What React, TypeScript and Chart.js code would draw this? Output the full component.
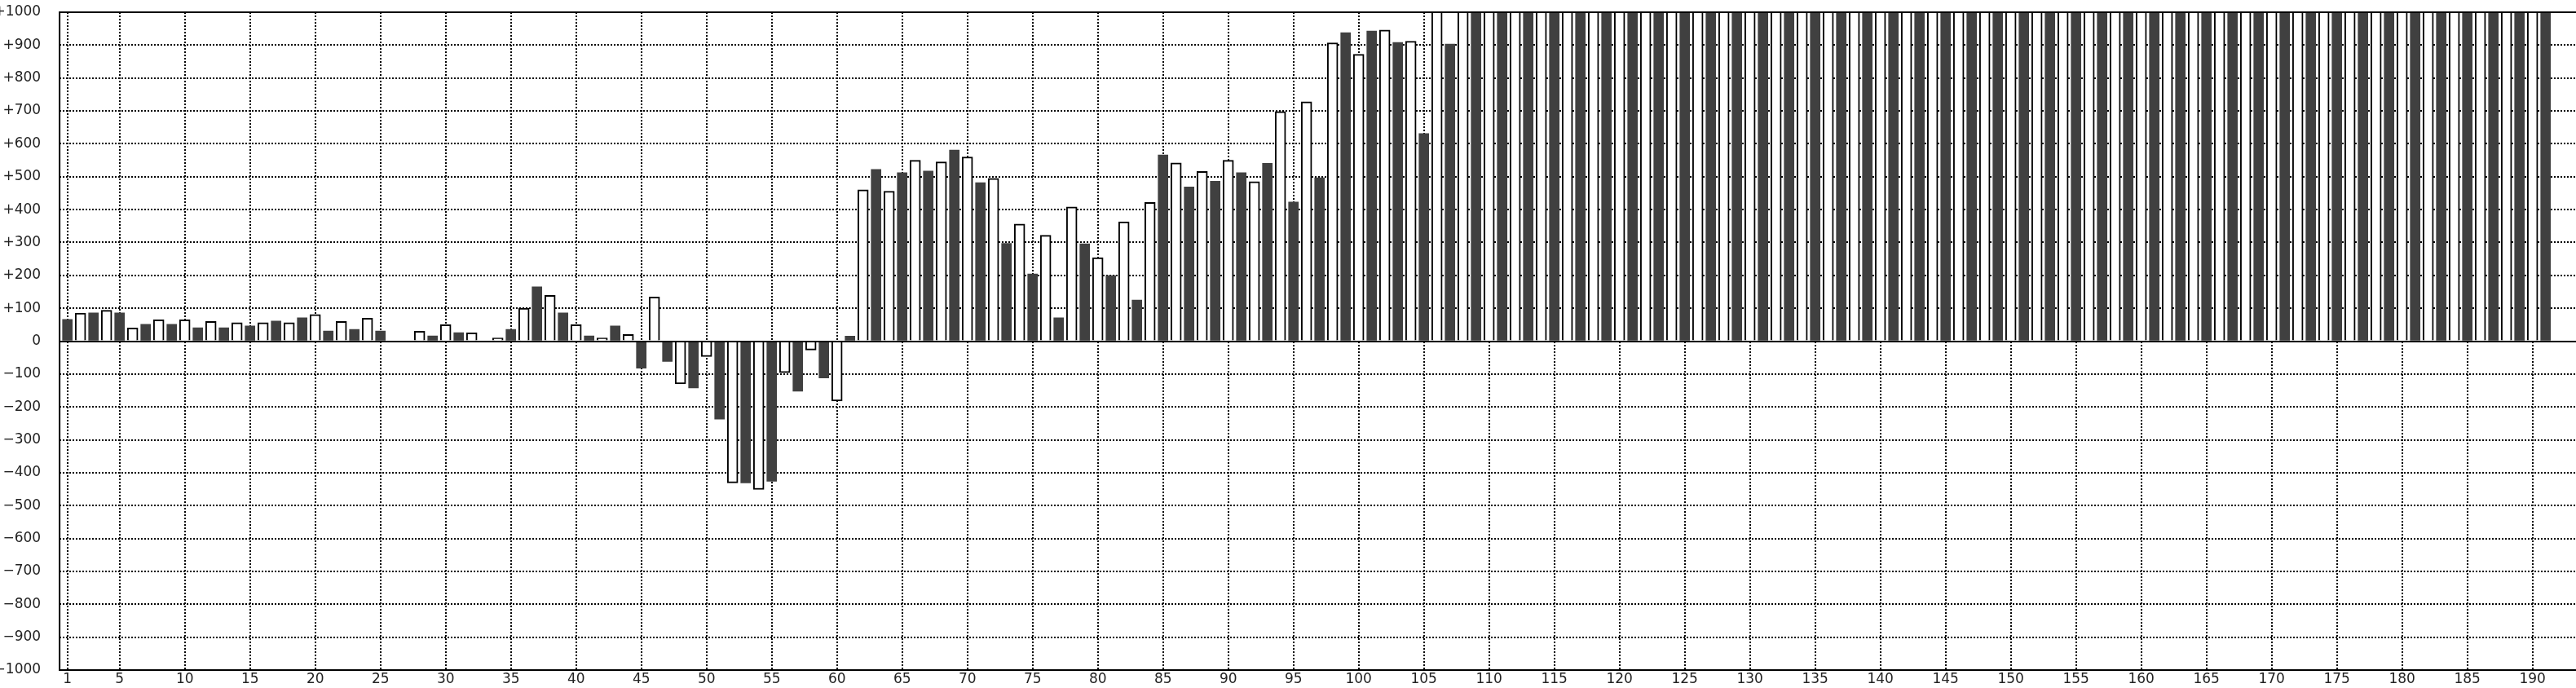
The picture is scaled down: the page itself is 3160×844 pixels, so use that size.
import React, { useEffect, useRef } from "react";
import { Chart, registerables } from "chart.js";

Chart.register(...registerables);

// Odd categories (1, 3, 5, ... 191) – dark bars
const darkValues: (number | null)[] = [
  66, 86, 86, 51, 51, 41, 41, 46, 61, 71,
  31, 36, 31, null, 16, 26, null, 36, 165, 86,
  16, 46, -82, -62, -142, -237, -431, -426, -152, -112,
  15, 522, 512, 517, 581, 482, 297, 204, 71, 296,
  199, 125, 566, 469, 486, 512, 541, 423, 497, 938,
  943, 908, 631, 903,
  1100, 1100, 1100, 1100, 1100, 1100, 1100, 1100, 1100, 1100,
  1100, 1100, 1100, 1100, 1100, 1100, 1100, 1100, 1100, 1100,
  1100, 1100, 1100, 1100, 1100, 1100, 1100, 1100, 1100, 1100,
  1100, 1100, 1100, 1100, 1100, 1100, 1100, 1100, 1100, 1100,
  1100, 1100,
];

// Even categories (2, 4, 6, ... 192) – white bars
const whiteValues: (number | null)[] = [
  85, 94, 40, 65, 65, 60, 56, 56, 56, 81,
  60, 70, null, 30, 50, 25, 10, 100, 139, 50,
  10, 20, 134, -130, -47, -431, -451, -96, -27, -182,
  460, 456, 550, 545, 560, 495, 356, 322, 408, 254,
  363, 422, 542, 516, 550, 485, 698, 728, 907, 872,
  946, 912,
  1100, 1100, 1100, 1100, 1100, 1100, 1100, 1100, 1100, 1100,
  1100, 1100, 1100, 1100, 1100, 1100, 1100, 1100, 1100, 1100,
  1100, 1100, 1100, 1100, 1100, 1100, 1100, 1100, 1100, 1100,
  1100, 1100, 1100, 1100, 1100, 1100, 1100, 1100, 1100, 1100,
  1100, 1100, 1100,
  null,
];

const xTickValues = [
  1, 5, 10, 15, 20, 25, 30, 35, 40, 45, 50, 55, 60, 65, 70, 75, 80, 85, 90, 95,
  100, 105, 110, 115, 120, 125, 130, 135, 140, 145, 150, 155, 160, 165, 170,
  175, 180, 185, 190,
];

const X_MIN = 0.4;
const X_MAX = 193.5;
const Y_MIN = -1000;
const Y_MAX = 1000;
const Y_STEP = 100;

const DARK = "#404040";
const FONT = "DejaVu Sans";

function fmtY(v: number): string {
  if (v > 0) return "+" + v;
  if (v < 0) return "\u2212" + Math.abs(v);
  return "0";
}

const framePlugin = {
  id: "frame",
  afterDatasetsDraw(chart: any) {
    const { ctx, chartArea, scales } = chart;
    const { left, right, top, bottom } = chartArea;
    const y0 = Math.round(scales.y.getPixelForValue(0));
    ctx.save();
    ctx.strokeStyle = "#000";
    ctx.lineWidth = 2;
    ctx.setLineDash([]);
    ctx.beginPath();
    ctx.moveTo(left - 1, top);
    ctx.lineTo(right, top);
    ctx.moveTo(left - 1, bottom);
    ctx.lineTo(right, bottom);
    ctx.moveTo(left, top);
    ctx.lineTo(left, bottom);
    ctx.moveTo(left, y0);
    ctx.lineTo(right, y0);
    ctx.stroke();
    ctx.restore();
  },
};

export default function App() {
  const ref = useRef<HTMLCanvasElement>(null);

  useEffect(() => {
    if (!ref.current) return;
    const darkData: { x: number; y: number }[] = [];
    darkValues.forEach((v, i) => {
      if (v !== null) darkData.push({ x: 1 + i * 2, y: v });
    });
    const whiteData: { x: number; y: number }[] = [];
    whiteValues.forEach((v, i) => {
      if (v !== null) whiteData.push({ x: 2 + i * 2, y: v });
    });

    const chart = new Chart(ref.current, {
      type: "bar",
      data: {
        datasets: [
          {
            label: "odd",
            data: darkData,
            backgroundColor: DARK,
            borderWidth: 0,
            barThickness: 12,
            grouped: false,
            clip: 0,
          } as any,
          {
            label: "even",
            data: whiteData,
            backgroundColor: "#ffffff",
            borderColor: "#000000",
            borderWidth: 2,
            barThickness: 13,
            grouped: false,
            clip: 0,
          } as any,
        ],
      },
      options: {
        animation: false,
        responsive: false,
        maintainAspectRatio: false,
        events: [],
        layout: { padding: { left: 0, right: 7.3, top: 15, bottom: 0 } },
        plugins: {
          legend: { display: false },
          tooltip: { enabled: false },
        },
        scales: {
          x: {
            type: "linear",
            min: X_MIN,
            max: X_MAX,
            offset: false,
            grid: {
              color: "#000",
              lineWidth: 2,
              drawTicks: false,
              offset: false,
            },
            border: { display: false, dash: [2, 2] },
            afterBuildTicks: (scale: any) => {
              scale.ticks = xTickValues.map((v) => ({ value: v }));
            },
            afterFit: (scale: any) => {
              scale.height = 22;
              scale.paddingLeft = 0;
              scale.paddingRight = 0;
            },
            ticks: {
              autoSkip: false,
              maxRotation: 0,
              minRotation: 0,
              padding: 1,
              color: "#222",
              font: { family: FONT, size: 17 },
              callback: (v: any) => String(v),
            },
          } as any,
          y: {
            type: "linear",
            min: Y_MIN,
            max: Y_MAX,
            grid: {
              color: "#000",
              lineWidth: 2,
              drawTicks: false,
            },
            border: { display: false, dash: [2, 2] },
            afterFit: (scale: any) => {
              scale.width = 93.1;
              scale.paddingTop = 0;
              scale.paddingBottom = 0;
            },
            ticks: {
              stepSize: Y_STEP,
              padding: 23,
              color: "#222",
              font: { family: FONT, size: 17 },
              callback: (v: any) => fmtY(Number(v)),
            },
          } as any,
        },
      },
      plugins: [framePlugin],
    });
    return () => chart.destroy();
  }, []);

  return (
    <div
      style={{
        position: "fixed",
        left: 0,
        top: 0,
        width: 3160,
        height: 844,
        overflow: "hidden",
        background: "#fff",
      }}
    >
      <canvas
        ref={ref}
        width={3190}
        height={844}
        style={{ position: "absolute", left: -20, top: 0, width: 3190, height: 844 }}
      />
    </div>
  );
}
